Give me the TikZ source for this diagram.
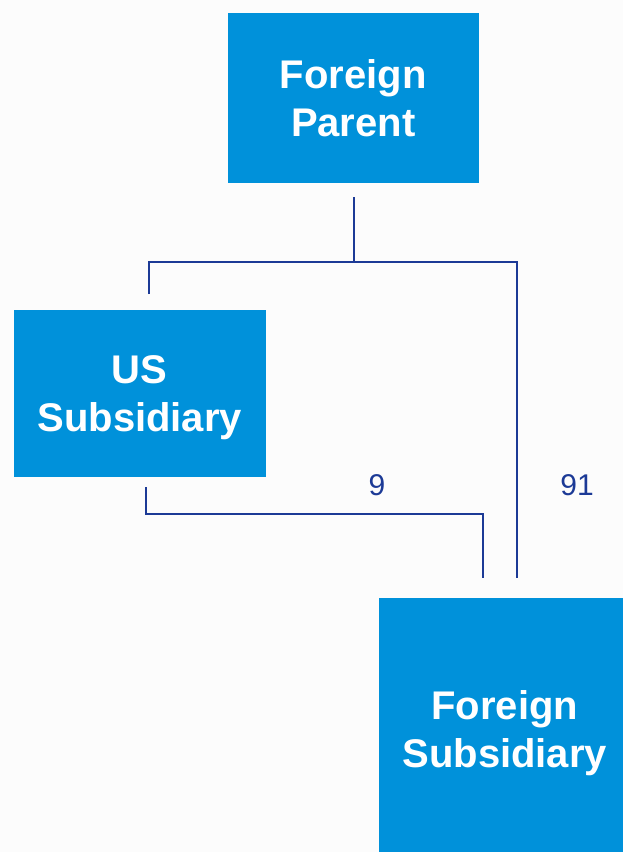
\documentclass[tikz,border=0pt]{standalone}
\usepackage{fontspec}
\setmainfont{Liberation Sans}
\usepackage{tikz}
\usetikzlibrary{positioning,calc}
\definecolor{boxblue}{RGB}{0,145,218}
\definecolor{linkblue}{RGB}{28,58,150}

\begin{document}
\begin{tikzpicture}[ % 图的属性
    x=1pt, y=-1pt, % 1pt 对应一个像素, y 轴向下
    line width=1.5pt, % 线宽
    company/.style={fill=boxblue, text=white, align=center, anchor=north west,
      inner sep=0pt, text depth=0pt, font=\fontsize{40}{48}\selectfont\bfseries}, % 公司方框
    link/.style={draw=linkblue}, % 持股连线
    share/.style={text=linkblue, font=\fontsize{30}{36}\selectfont} % 持股比例
  ]
  \fill[white!98!gray] (0,0) rectangle (623,852); % 背景
  \clip (0,0) rectangle (623,852);
  %% node
  \node[company, minimum width=251pt, minimum height=170pt] (parent) at (227,12) {Foreign\\Parent};
  \node[company, minimum width=252pt, minimum height=167pt] (us) at (13,309) {US\\Subsidiary};
  \node[company, minimum width=252pt, minimum height=263pt] (fsub) at (378,597) {Foreign\\Subsidiary};
  \node[share] (s9) at (377,485) {9};
  \node[share] (s91) at (577,485) {91};
  %% coordinate
  \coordinate (pOut) at (354,197);
  \coordinate (fork) at (354,262);
  \coordinate (usIn) at (149,294);
  \coordinate (fsIn91) at (517,578);
  \coordinate (usOut) at (146,487);
  \coordinate (join9) at (483,514);
  \coordinate (fsIn9) at (483,578);
  %% path
  \draw[link] (pOut) -- (fork);
  \draw[link] (usIn) |- (fork) -| (fsIn91);
  \draw[link] (usOut) |- (join9) -- (fsIn9);
\end{tikzpicture}
\end{document}
